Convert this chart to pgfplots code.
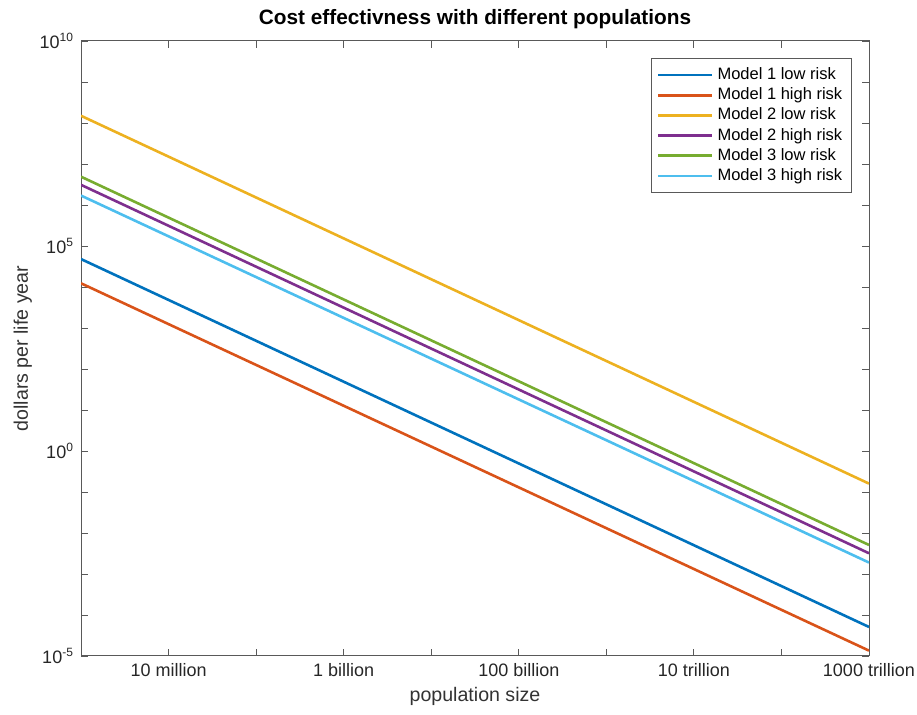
\documentclass[border=0pt]{standalone}
\usepackage{fontspec}
\setmainfont{Liberation Sans}
\usepackage{pgfplots}
\pgfplotsset{compat=1.18}

\definecolor{mblue}{rgb}{0,0.447,0.741}
\definecolor{mred}{rgb}{0.85,0.325,0.098}
\definecolor{myellow}{rgb}{0.929,0.694,0.125}
\definecolor{mpurple}{rgb}{0.494,0.184,0.556}
\definecolor{mgreen}{rgb}{0.466,0.674,0.188}
\definecolor{mcyan}{rgb}{0.301,0.745,0.933}
\definecolor{axgray}{gray}{0.35}

\begin{document}
\begin{tikzpicture}
\begin{axis}[
  scale only axis,
  width=394pt, height=307.5pt,
  xmode=log, ymode=log,
  xmin=1e6, xmax=1e15,
  ymin=1e-5, ymax=1e10,
  axis line style={axgray, line width=0.5pt},
  every tick/.style={axgray, line width=0.4pt},
  major tick length=3.5pt, minor tick length=3.5pt,
  tick align=inside,
  xtick={1e7,1e9,1e11,1e13,1e15},
  xticklabels={10 million,1 billion,100 billion,10 trillion,1000 trillion},
  minor xtick={1e8,1e10,1e12,1e14},
  ytick={1e-5,1,1e5,1e10},
  yticklabels={10\textsuperscript{-5},10\textsuperscript{0},10\textsuperscript{5},10\textsuperscript{10}},
  minor ytick={1e-4,1e-3,1e-2,1e-1,10,100,1e3,1e4,1e6,1e7,1e8,1e9},
  tick label style={font=\fontsize{9}{10}\selectfont, text=black!85},
  title={\textbf{Cost effectivness with different populations}},
  title style={font=\fontsize{10.4}{12}\selectfont, yshift=-3.5pt},
  xlabel={population size},
  ylabel={dollars per life year},
  label style={font=\fontsize{9.8}{11}\selectfont, text=black!80},
  xlabel style={yshift=1.5pt},
  ylabel style={yshift=-3pt},
  legend style={at={(0.978,0.972)}, anchor=north east, draw=axgray,
    font=\fontsize{8.25}{9}\selectfont, row sep=-1.4pt, inner sep=2.5pt,
    cells={anchor=west}},
  legend image code/.code={\draw[#1, line width=1.3pt] (0cm,0cm) -- (0.95cm,0cm);},
  every axis plot/.append style={line width=1.3pt},
]
\addplot[mblue] coordinates {(1e6,4.8e4) (1e15,5.1e-5)};
\addlegendentry{Model 1 low risk}
\addplot[mred] coordinates {(1e6,1.23e4) (1e15,1.35e-5)};
\addlegendentry{Model 1 high risk}
\addplot[myellow] coordinates {(1e6,1.5e8) (1e15,0.16)};
\addlegendentry{Model 2 low risk}
\addplot[mpurple] coordinates {(1e6,3.1e6) (1e15,3.2e-3)};
\addlegendentry{Model 2 high risk}
\addplot[mgreen] coordinates {(1e6,4.9e6) (1e15,5.1e-3)};
\addlegendentry{Model 3 low risk}
\addplot[mcyan] coordinates {(1e6,1.7e6) (1e15,1.9e-3)};
\addlegendentry{Model 3 high risk}
\end{axis}
\pgfresetboundingbox
\path[use as bounding box] ([shift={(-40.5pt,-29.5pt)}]current axis.south west)
  rectangle ([shift={(24pt,20.5pt)}]current axis.north east);
\end{tikzpicture}
\end{document}
